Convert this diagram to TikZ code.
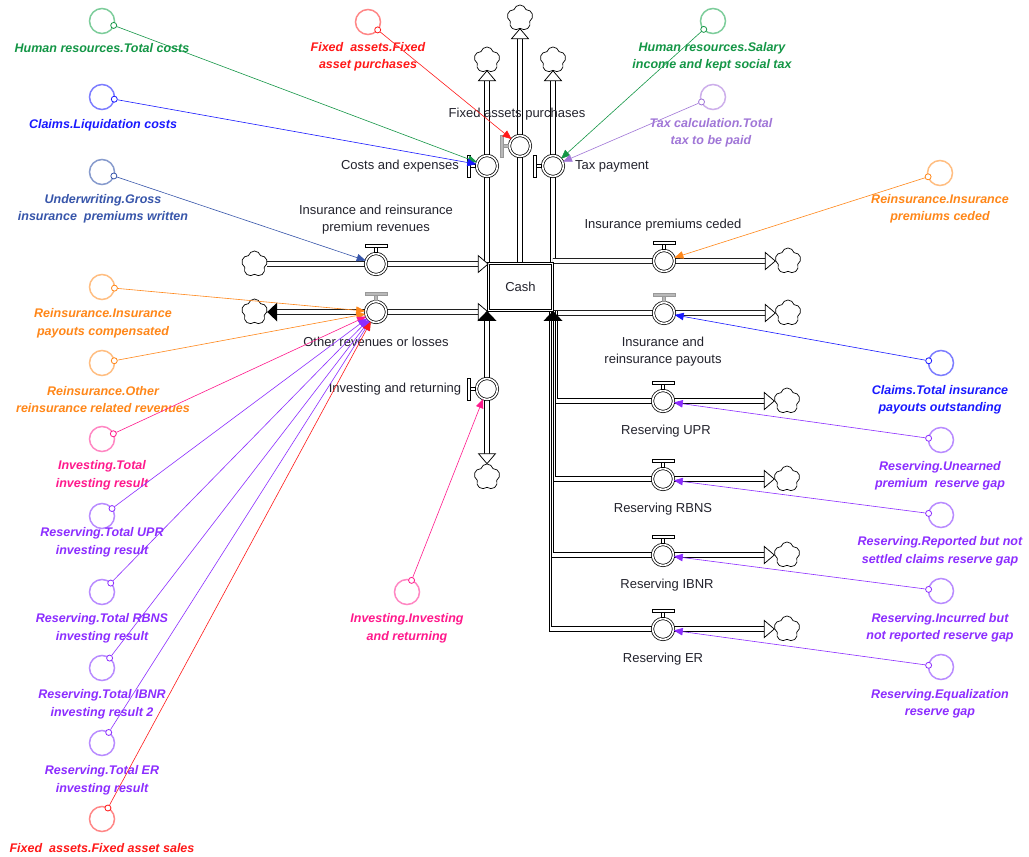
\documentclass[tikz,border=0pt]{standalone}
\usepackage{fontspec}
\setmainfont{Liberation Sans}
\usetikzlibrary{shapes.symbols,arrows.meta,calc}
\pgfdeclarelayer{bg}
\pgfdeclarelayer{pipes}
\pgfsetlayers{bg,pipes,main}
\definecolor{cgreen}{RGB}{20,150,70}
\definecolor{lgreen}{RGB}{125,205,155}
\definecolor{cblue}{RGB}{25,25,255}
\definecolor{lblue}{RGB}{125,125,255}
\definecolor{csteel}{RGB}{55,85,170}
\definecolor{lsteel}{RGB}{135,155,205}
\definecolor{corange}{RGB}{255,135,25}
\definecolor{lorange}{RGB}{255,190,130}
\definecolor{cpink}{RGB}{255,25,140}
\definecolor{lpink}{RGB}{255,135,195}
\definecolor{cpurple}{RGB}{140,45,255}
\definecolor{lpurple}{RGB}{185,140,255}
\definecolor{cred}{RGB}{255,25,25}
\definecolor{lred}{RGB}{255,135,135}
\definecolor{clav}{RGB}{160,118,215}
\definecolor{llav}{RGB}{205,175,235}
\definecolor{ink}{RGB}{35,35,45}
\tikzset{
  pipe/.style={draw=black,line width=0.75pt,double=white,double distance=4.4pt},
  pline/.style={draw=black,line width=0.7pt},
  valve/.style={circle,draw=black,line width=0.75pt,double=white,double distance=1.6pt,fill=white,minimum size=21pt,inner sep=0pt},
  stock/.style={rectangle,draw=black,line width=0.75pt,double=white,double distance=1.5pt,fill=white,minimum width=64pt,minimum height=47pt,inner sep=0pt,font=\fontsize{13}{15}\selectfont,text=ink},
  cloudy/.style={cloud,cloud puffs=5,aspect=1,draw=black,line width=0.7pt,fill=white,minimum size=26pt,inner sep=0pt},
  flowlab/.style={align=center,font=\fontsize{13}{17}\selectfont,text=ink,inner sep=0pt},
  ghost/.style={circle,draw=#1,line width=1.5pt,minimum size=25pt,inner sep=0pt},
  gdot/.style={circle,draw=#1,line width=0.8pt,minimum size=6pt,inner sep=0pt,fill=white},
  glab/.style={align=center,text=#1,font=\bfseries\itshape\fontsize{12.5}{17.5}\selectfont,inner sep=0pt},
  conn/.style={draw=#1,line width=0.6pt,-{Triangle[length=9pt,width=7.5pt]}},
  handle/.style={line width=0.6pt,draw=black,fill=white},
  greyhandle/.style={handle/.style={line width=0.6pt,draw=gray!80,fill=gray!55}},
  openhead/.pic={\draw[line width=0.75pt,fill=white] (0,0) -- (-10,8.5) -- (-10,-8.5) -- cycle;},
  fullhead/.pic={\fill[black] (0,0) -- (-10,9.5) -- (-10,-9.5) -- cycle;},
  hhandle/.pic={\draw[handle] (-1.5,-11.5) rectangle (1.5,-16.5);
                \draw[handle] (-11,-16.5) rectangle (11,-19.5);},
  vhandle/.pic={\draw[handle] (-11.5,-1.5) rectangle (-16.5,1.5);
                \draw[handle] (-16.5,-11) rectangle (-19.5,11);},
}
\newcommand\ghostvar[7]{%
  \node[ghost=#4] (#1) at (#2) {};
  \node[glab=#5] (#1l) at (#3) {#7};
  \node[gdot=#5] (#1d) at ($(#1)!12.5pt!(#6)$) {};
  \draw[conn=#5] (#1d) -- (#6);
}
\begin{document}
\begin{tikzpicture}[x=1pt,y=-1pt]
\begin{pgfonlayer}{bg}
\fill[white] (0,0) rectangle (1029,857);
\end{pgfonlayer}
\useasboundingbox (0,0) rectangle (1029,857);

% stock
\node[stock] (cash) at (520.5,287) {Cash};

% clouds
\node[cloudy] (clPrem) at (254.5,264) {};
\node[cloudy] (clOther) at (254.5,312) {};
\node[cloudy] (clCost) at (487,60) {};
\node[cloudy] (clFix) at (520,18) {};
\node[cloudy] (clTax) at (553,60) {};
\node[cloudy] (clCeded) at (788,261) {};
\node[cloudy] (clPay) at (788,313) {};
\node[cloudy] (clInv) at (487,477) {};
\node[cloudy] (clUPR) at (787,401) {};
\node[cloudy] (clRBNS) at (787,479) {};
\node[cloudy] (clIBNR) at (787,555) {};
\node[cloudy] (clER) at (787,629) {};

% valves
\node[valve] (vPrem) at (376,264) {};
\node[valve] (vOther) at (376,312) {};
\node[valve] (vCost) at (487,166) {};
\node[valve] (vFix) at (520,146) {};
\node[valve] (vTax) at (553,166) {};
\node[valve] (vCeded) at (664,261) {};
\node[valve] (vPay) at (664,313) {};
\node[valve] (vInv) at (487,389) {};
\node[valve] (vUPR) at (663,401) {};
\node[valve] (vRBNS) at (663,479) {};
\node[valve] (vIBNR) at (663,555) {};
\node[valve] (vER) at (663,629) {};

% pipes
\begin{pgfonlayer}{pipes}
\draw[pipe,shorten >=10pt] (clPrem) -- (cash.west |- clPrem);
\draw[pipe,shorten >=10pt,shorten <=10pt] (clOther.east) -- (cash.west |- clOther);
\draw[pipe,shorten >=10pt] (vCost |- cash.north) -- (clCost.south);
\draw[pipe,shorten >=10pt] (vFix |- cash.north) -- (clFix.south);
\draw[pipe,shorten >=10pt] (vTax |- cash.north) -- (clTax.south);
\draw[pipe,shorten >=10pt] (cash.east |- vCeded) -- (clCeded.west);
\draw[pipe,shorten >=10pt] (cash.east |- vPay) -- (clPay.west);
\draw[pipe,shorten >=10pt,shorten <=10pt] (vInv |- cash.south) -- (clInv.north);
% bundled reserving pipes (nested outlines)
\draw[pline] ($(cash.south)+(36.5,0)$) |- ($(clUPR.west)+(-10,-2.5)$);
\draw[pline] ($(cash.south)+(34.5,0)$) |- ($(clRBNS.west)+(-10,-2.5)$);
\draw[pline] ($(cash.south)+(32.5,0)$) |- ($(clIBNR.west)+(-10,-2.5)$);
\draw[pline] ($(cash.south)+(30.5,0)$) |- ($(clER.west)+(-10,-2.5)$);
\draw[pline] ($(cash.south)+(28.5,0)$) |- ($(clER.west)+(-10,2.5)$);
\draw[pline] ($(vUPR)+(-108,2.5)$) -- ($(clUPR.west)+(-10,2.5)$);
\draw[pline] ($(vRBNS)+(-110,2.5)$) -- ($(clRBNS.west)+(-10,2.5)$);
\draw[pline] ($(vIBNR)+(-112,2.5)$) -- ($(clIBNR.west)+(-10,2.5)$);
\end{pgfonlayer}

% pipe heads
\pic at (cash.west |- clPrem) {openhead};
\pic at (cash.west |- clOther) {openhead};
\pic[rotate=180] at (clOther.east) {fullhead};
\pic[rotate=90] at (clCost.south) {openhead};
\pic[rotate=90] at (clFix.south) {openhead};
\pic[rotate=90] at (clTax.south) {openhead};
\pic at (clCeded.west) {openhead};
\pic at (clPay.west) {openhead};
\pic[rotate=-90] at (clInv.north) {openhead};
\pic[rotate=90] at (vInv |- cash.south) {fullhead};
\pic[rotate=90] at ($(cash.south)+(32.5,0)$) {fullhead};
\pic at (clUPR.west) {openhead};
\pic at (clRBNS.west) {openhead};
\pic at (clIBNR.west) {openhead};
\pic at (clER.west) {openhead};

% valve handles
\pic at (vPrem) {hhandle};
\pic[greyhandle] at (vOther) {hhandle};
\pic at (vCeded) {hhandle};
\pic[greyhandle] at (vPay) {hhandle};
\pic at (vUPR) {hhandle};
\pic at (vRBNS) {hhandle};
\pic at (vIBNR) {hhandle};
\pic at (vER) {hhandle};
\pic at (vCost) {vhandle};
\pic[greyhandle] at (vFix) {vhandle};
\pic at (vTax) {vhandle};
\pic at (vInv) {vhandle};

% flow labels
\node[flowlab] (lPrem) at (376,219.5) {Insurance and reinsurance\\premium revenues};
\node[flowlab] (lOther) at (376,342) {Other revenues or losses};
\node[flowlab] (lCost) at (400,166) {Costs and expenses};
\node[flowlab] (lFix) at (517,114) {Fixed assets purchases};
\node[flowlab] (lTax) at (612,166) {Tax payment};
\node[flowlab] (lCeded) at (663,225) {Insurance premiums ceded};
\node[flowlab] (lPay) at (663,351.5) {Insurance and\\reinsurance payouts};
\node[flowlab] (lInv) at (395,389) {Investing and returning};
\node[flowlab] (lUPR) at (666,431) {Reserving UPR};
\node[flowlab] (lRBNS) at (663,509) {Reserving RBNS};
\node[flowlab] (lIBNR) at (667,585) {Reserving IBNR};
\node[flowlab] (lER) at (663,659) {Reserving ER};

% shadow variables and connectors
\ghostvar{hrTot}{102,21}{102,48}{lgreen}{cgreen}{vCost}{Human resources.Total costs}
\ghostvar{clLiq}{102,97}{103,125}{lblue}{cblue}{vCost}{Claims.Liquidation costs}
\ghostvar{uwGross}{102,172}{103,209}{lsteel}{csteel}{vPrem}{Underwriting.Gross\\insurance\ \ premiums written}
\ghostvar{reComp}{102,287}{103,323.5}{lorange}{corange}{vOther}{Reinsurance.Insurance\\payouts compensated}
\ghostvar{reOth}{102,363}{103,399.5}{lorange}{corange}{vOther}{Reinsurance.Other\\reinsurance related revenues}
\ghostvar{invTot}{102,439}{102,475.5}{lpink}{cpink}{vOther}{Investing.Total\\investing result}
\ghostvar{rsUPR}{102,516}{102,542.5}{lpurple}{cpurple}{vOther}{Reserving.Total UPR\\investing result}
\ghostvar{rsRBNS}{102,592}{102,628.5}{lpurple}{cpurple}{vOther}{Reserving.Total RBNS\\investing result}
\ghostvar{rsIBNR}{102,668}{102,704.5}{lpurple}{cpurple}{vOther}{Reserving.Total IBNR\\investing result 2}
\ghostvar{rsER}{102,743}{102,780.5}{lpurple}{cpurple}{vOther}{Reserving.Total ER\\investing result}
\ghostvar{faSal}{102,819}{102,848}{lred}{cred}{vOther}{Fixed\ \ assets.Fixed asset sales}
\ghostvar{faPur}{368,22}{368,57}{lred}{cred}{vFix}{Fixed\ \ assets.Fixed\\asset purchases}
\ghostvar{hrSal}{713,21}{712,57}{lgreen}{cgreen}{vTax}{Human resources.Salary\\income and kept social tax}
\ghostvar{taxTot}{713,97}{711,133}{llav}{clav}{vTax}{Tax calculation.Total\\tax to be paid}
\ghostvar{reCed}{940,173}{940,209}{lorange}{corange}{vCeded}{Reinsurance.Insurance\\premiums ceded}
\ghostvar{clOut}{941,363}{940,400}{lblue}{cblue}{vPay}{Claims.Total insurance\\payouts outstanding}
\ghostvar{rsUn}{941,440}{940,476}{lpurple}{cpurple}{vUPR}{Reserving.Unearned\\premium\ \ reserve gap}
\ghostvar{rsRep}{941,515}{940,551.5}{lpurple}{cpurple}{vRBNS}{Reserving.Reported but not\\settled claims reserve gap}
\ghostvar{rsInc}{941,591}{940,628}{lpurple}{cpurple}{vIBNR}{Reserving.Incurred but\\not reported reserve gap}
\ghostvar{rsEq}{941,667}{940,704}{lpurple}{cpurple}{vER}{Reserving.Equalization\\reserve gap}
\ghostvar{invInv}{407,592}{407,628.5}{lpink}{cpink}{vInv}{Investing.Investing\\and returning}
\end{tikzpicture}
\end{document}
